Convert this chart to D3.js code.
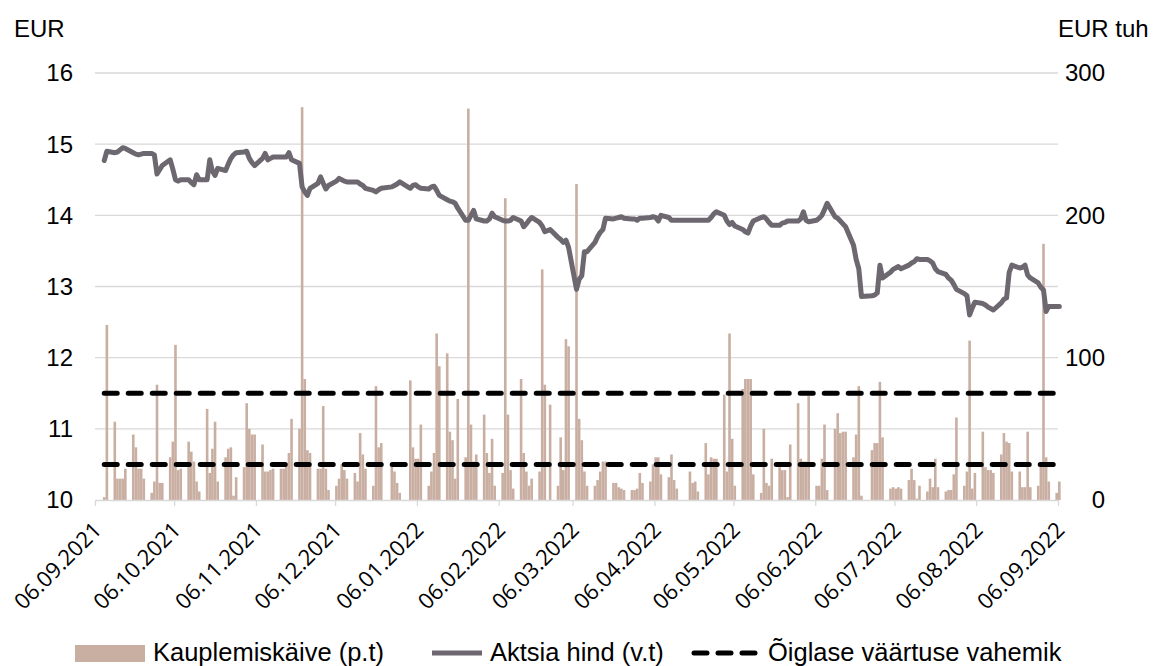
<!DOCTYPE html>
<html>
<head>
<meta charset="utf-8">
<script src="https://cdn.jsdelivr.net/npm/d3@7"></script>
<style>
body { margin: 0; background: #fff; }
svg text { font-family: "Liberation Sans", Arial, sans-serif; fill: #000; }
</style>
</head>
<body>
<script>
// trading days: weekdays from firstDay to lastDay, exchange holidays left out
var firstDay = "2021-09-09";
var lastDay = "2022-09-06";
var holidays = ["2021-12-24", "2021-12-31", "2022-02-24", "2022-04-15", "2022-04-18", "2022-06-24"];

var monthTicks = ["2021-09-06", "2021-10-06", "2021-11-06", "2021-12-06", "2022-01-06", "2022-02-06",
    "2022-03-06", "2022-04-06", "2022-05-06", "2022-06-06", "2022-07-06", "2022-08-06", "2022-09-06"];
var leftTicks = [10, 11, 12, 13, 14, 15, 16];
var rightTicks = [0, 100, 200, 300];
var fairRange = [10.5, 11.5];

// share price, EUR (one value per trading day, a row per week)
var price = [
    14.77, 14.90,
    14.88, 14.89, 14.92, 14.95, 14.94,
    14.88, 14.86, 14.85, 14.86, 14.87,
    14.87, 14.85, 14.58, 14.64, 14.70,
    14.78, 14.65, 14.50, 14.48, 14.50,
    14.50, 14.46, 14.43, 14.57, 14.50,
    14.50, 14.78, 14.62, 14.56, 14.66,
    14.63, 14.72, 14.80, 14.85, 14.88,
    14.89, 14.90, 14.80, 14.74, 14.70,
    14.80, 14.87, 14.78, 14.80, 14.82,
    14.82, 14.82, 14.82, 14.88, 14.78,
    14.73, 14.40, 14.33, 14.28, 14.38,
    14.45, 14.54, 14.45, 14.37, 14.42,
    14.48, 14.52, 14.50, 14.48, 14.47,
    14.47, 14.47, 14.44, 14.42, 14.38,
    14.35, 14.33, 14.36, 14.38,
    14.40, 14.42, 14.44, 14.47,
    14.38, 14.42, 14.43, 14.40, 14.38,
    14.37, 14.40, 14.41, 14.35, 14.28,
    14.22, 14.20, 14.19, 14.17, 14.10,
    13.93, 13.93, 14.00, 14.07, 13.95,
    13.92, 13.92, 13.95, 14.03, 13.98,
    13.93, 13.92, 13.92, 13.93, 13.97,
    13.92, 13.84, 13.88, 13.93, 13.97,
    13.90, 13.85, 13.77, 13.80,
    13.69, 13.66, 13.62, 13.65, 13.55,
    12.96, 13.10, 13.15, 13.49, 13.49,
    13.62, 13.70, 13.76, 13.80, 13.96,
    13.95, 13.96, 13.97, 13.98, 13.96,
    13.95, 13.95, 13.93, 13.96, 13.96,
    13.97, 13.98, 13.97, 13.92, 14.00,
    13.97, 13.93, 13.93, 13.93,
    13.93, 13.93, 13.93, 13.93,
    13.93, 13.93, 13.97, 14.02, 14.05,
    14.00, 13.92, 13.87, 13.90, 13.85,
    13.80, 13.77, 13.75, 13.85, 13.92,
    13.97, 13.98, 13.95, 13.90, 13.86,
    13.86, 13.89, 13.90, 13.92, 13.92,
    13.92, 13.95, 14.05, 13.93, 13.91,
    13.93, 13.96, 14.00, 14.08, 14.17,
    13.98, 13.96, 13.92, 13.88, 13.84,
    13.58, 13.38, 13.25, 12.86,
    12.87, 12.88, 12.91, 13.30, 13.12,
    13.20, 13.24, 13.26, 13.28, 13.25,
    13.30, 13.33, 13.35, 13.39, 13.38,
    13.38, 13.36, 13.33, 13.25, 13.21,
    13.17, 13.12, 13.09, 13.03, 12.96,
    12.90, 12.87, 12.60, 12.70, 12.78,
    12.76, 12.74, 12.71, 12.69, 12.67,
    12.77, 12.82, 12.84, 13.20, 13.30,
    13.26, 13.27, 13.30, 13.16, 13.12,
    13.05, 12.99, 12.95, 12.65, 12.72,
    12.72, 12.72
];

// turnover, EUR thousand
var volume = [
    2, 123,
    55, 15, 15, 15, 22,
    46, 37, 22, 22, 15,
    5, 13, 81, 12, 12,
    30, 41, 109, 21, 22,
    41, 34, 27, 13, 6,
    64, 19, 36, 55, 13,
    30, 36, 37, 3, 16,
    23, 68, 50, 46, 46,
    39, 20, 20, 21, 22,
    22, 22, 26, 33, 57,
    50, 276, 85, 35, 33,
    22, 22, 66, 22, 7,
    10, 15, 25, 21, 15,
    19, 13, 47, 32, 22,
    10, 80, 37, 40,
    25, 20, 12, 5,
    84, 37, 29, 29, 53,
    10, 20, 33, 117, 94,
    103, 48, 42, 15, 71,
    30, 275, 53, 27, 32,
    60, 33, 19, 43, 10,
    19, 212, 60, 21, 8,
    85, 33, 20, 10, 15,
    20, 162, 81, 67,
    10, 44, 21, 113, 108,
    222, 57, 42, 20, 10,
    10, 14, 20, 27, 27,
    12, 12, 9, 8, 7,
    7, 7, 8, 19, 12,
    13, 25, 30, 30, 18,
    16, 32, 14, 8,
    20, 12, 13, 6,
    40, 18, 30, 29, 29,
    74, 20, 117, 43, 10,
    78, 85, 85, 85, 18,
    5, 50, 12, 10, 29,
    23, 21, 21, 2, 39,
    68, 29, 27, 27, 73,
    10, 10, 29, 53, 7,
    50, 61, 47, 48, 48,
    30, 46, 80, 3,
    35, 40, 40, 83, 44,
    8, 9, 8, 9, 8,
    14, 22, 14, 1, 10,
    6, 15, 9, 29, 9,
    6, 7, 7, 18, 58,
    10, 20, 112, 8, 19,
    48, 23, 21, 21, 19,
    32, 47, 41, 40, 20,
    20, 9, 9, 48, 9,
    10, 25, 180, 30, 13,
    5, 13
];

var barColor = "#c9aea2";
var lineColor = "#6d6870";
var gridColor = "#d9d9d9";

var parse = d3.timeParse("%Y-%m-%d");
var fmt = d3.timeFormat("%Y-%m-%d");

var days = d3.timeDay.range(parse(firstDay), d3.timeDay.offset(parse(lastDay), 1))
    .filter(function (d) {
        return d.getDay() != 0 && d.getDay() != 6 && holidays.indexOf(fmt(d)) < 0;
    });
if (days.length != price.length || days.length != volume.length)
    throw new Error("length mismatch: days " + days.length + " price " + price.length + " volume " + volume.length);

var data = days.map(function (d, i) {
    return { date: d, price: price[i], volume: volume[i] };
});

var width = 1155, height = 666;
var svg = d3.select("body").append("svg").attr("width", width).attr("height", height);

var x = d3.scaleTime()
    .domain([parse(monthTicks[0]), parse(monthTicks[monthTicks.length - 1])])
    .range([95, 1058]);
var yL = d3.scaleLinear().domain([10, 16]).range([500, 73]);
var yR = d3.scaleLinear().domain([0, 300]).range([500, 73]);

function xPos(d) {
    return x(d3.timeHour.offset(d, 12));
}

// grid
svg.append("g")
    .selectAll("line")
    .data(leftTicks.slice(1))
    .enter().append("line")
    .attr("x1", 95).attr("x2", 1058)
    .attr("y1", function (d) { return yL(d); })
    .attr("y2", function (d) { return yL(d); })
    .attr("stroke", gridColor)
    .attr("stroke-width", 1.3);

// bars
svg.append("g")
    .selectAll("rect")
    .data(data)
    .enter().append("rect")
    .attr("x", function (d) { return xPos(d.date) - 1.3; })
    .attr("width", 2.6)
    .attr("y", function (d) { return yR(d.volume); })
    .attr("height", function (d) { return yR(0) - yR(d.volume); })
    .attr("fill", barColor);

// x axis
var xAxis = svg.append("g")
    .attr("transform", "translate(0,500)")
    .call(d3.axisBottom(x)
        .tickValues(monthTicks.map(parse))
        .tickSize(6)
        .tickSizeOuter(0)
        .tickFormat(d3.timeFormat("%d.%m.%Y")));
xAxis.select(".domain").attr("stroke", gridColor).attr("stroke-width", 1.3);
xAxis.selectAll(".tick line").attr("stroke", gridColor).attr("stroke-width", 1.3);
xAxis.selectAll(".tick text")
    .attr("x", 0).attr("y", 0).attr("dy", "0.35em")
    .attr("text-anchor", "end")
    .attr("transform", "translate(2,26) rotate(-45)")
    .style("font-size", "22px")
    .style("font-family", "'Open Sans', 'Noto Sans', sans-serif")
    .attr("fill", "#000");

// price line
var line = d3.line()
    .x(function (d) { return xPos(d.date); })
    .y(function (d) { return yL(d.price); });
svg.append("path")
    .datum(data)
    .attr("d", line)
    .attr("fill", "none")
    .attr("stroke", lineColor)
    .attr("stroke-width", 5)
    .attr("stroke-linejoin", "round")
    .attr("stroke-linecap", "round");

// fair value range
svg.append("g")
    .selectAll("line")
    .data(fairRange)
    .enter().append("line")
    .attr("x1", xPos(days[0]))
    .attr("x2", xPos(days[days.length - 1]))
    .attr("y1", function (d) { return yL(d); })
    .attr("y2", function (d) { return yL(d); })
    .attr("stroke", "#000")
    .attr("stroke-width", 5)
    .attr("stroke-dasharray", "13,11")
    .attr("stroke-linecap", "round");

// left and right labels
svg.append("g")
    .selectAll("text")
    .data(leftTicks)
    .enter().append("text")
    .attr("x", 73)
    .attr("y", function (d) { return yL(d); })
    .attr("dy", "0.35em")
    .attr("text-anchor", "end")
    .style("font-size", "24px")
    .text(function (d) { return d; });

svg.append("g")
    .selectAll("text")
    .data(rightTicks)
    .enter().append("text")
    .attr("x", 1105)
    .attr("y", function (d) { return yR(d); })
    .attr("dy", "0.35em")
    .attr("text-anchor", "end")
    .style("font-size", "24px")
    .text(function (d) { return d; });

svg.append("text").attr("x", 14).attr("y", 37).style("font-size", "24px").text("EUR");
svg.append("text").attr("x", 1058).attr("y", 37).style("font-size", "24px").text("EUR tuh");

// legend
var legend = svg.append("g");
legend.append("rect").attr("x", 75).attr("y", 645).attr("width", 70).attr("height", 17).attr("fill", barColor);
legend.append("text").attr("x", 153).attr("y", 661).style("font-size", "25.5px").text("Kauplemiskäive (p.t)");
legend.append("line").attr("x1", 432).attr("x2", 482).attr("y1", 653).attr("y2", 653)
    .attr("stroke", lineColor).attr("stroke-width", 5);
legend.append("text").attr("x", 490).attr("y", 661).style("font-size", "25.5px").text("Aktsia hind (v.t)");
legend.append("line").attr("x1", 694).attr("x2", 756).attr("y1", 653).attr("y2", 653)
    .attr("stroke", "#000").attr("stroke-width", 5)
    .attr("stroke-dasharray", "13,11").attr("stroke-linecap", "round");
legend.append("text").attr("x", 768).attr("y", 661).style("font-size", "25.5px").text("Õiglase väärtuse vahemik");
</script>
</body>
</html>
